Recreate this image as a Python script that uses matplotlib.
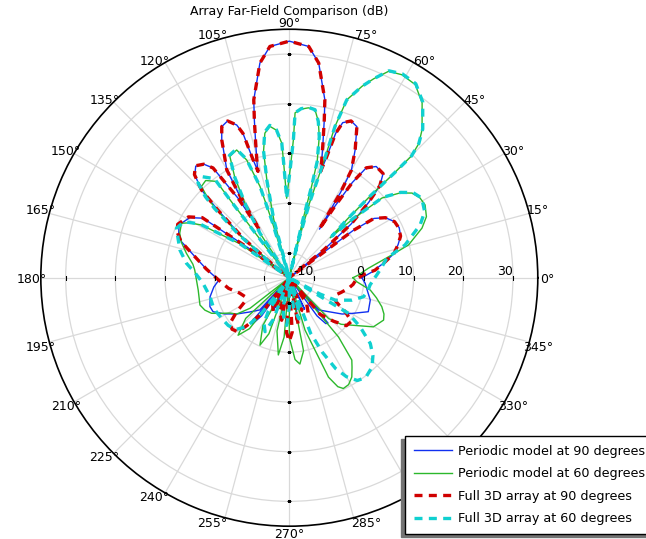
import numpy as np
import matplotlib
matplotlib.use('Agg')
import matplotlib.pyplot as plt

# far-field levels in dB (angle in degrees)
blue_theta = [0, 4, 9.5, 13, 17, 20.5, 24.5, 28, 32, 35, 36.5, 37.5, 39, 41, 43.5, 45.5, 48, 52, 55, 56.5,
              57.5, 58.2, 59, 60, 62.8, 65.9, 68.5, 71, 72.2, 72.9, 73.6, 74.3, 76, 77.5, 78.7, 82.2, 85.2, 90,
              94.8, 97.8, 101.3, 102.5, 104, 105.7, 106.4, 107.1, 107.8, 109, 111.5, 114.1, 116.1, 117.2, 120.1,
              121, 121.8, 122.8, 124.8, 127, 130, 132.6, 135, 136.5, 139.4, 141.6, 142.5, 144, 145.4, 148.9,
              154.4, 158, 161.5, 168.2, 174, 180.5, 182.5, 187, 193.5, 200, 204, 209, 214.5, 221, 227.5, 228.5,
              229.5, 231.5, 234, 236, 244, 250, 258, 264, 270, 276, 282, 290, 296, 304, 306, 308.5, 310.5,
              311.5, 312.5, 319, 325.5, 330.3, 336.7, 344.6, 350, 355.8, 360]
blue_db = [-0.4, 1.7, 4.6, 6.6, 7.9, 8.9, 9.3, 9.0, 7.8, 5.8, 1.0, -15, -6, 1.5, 7, 11, 13.2, 13.4, 12, 8,
           2, -3.5, 5, 10, 14, 18.3, 18.9, 18, 15.5, 10, 7.3, 9, 13, 17.5, 21.5, 28.6, 31.7, 32.6,
           31.7, 28.6, 21.5, 17.5, 13, 9, 7.3, 10, 15.5, 17.5, 18.9, 18.3, 15.9, 14, 10.1,
           5, -3.7, 4, 11.9, 13.6, 14.3, 13.1, 10, 5, -2.8, -10.9, -15, -5, 6.1, 8.4,
           9.6, 9.0, 7.9, 4.1, 1.8, -0.4, -0.7, 0.3, 1.4, 2.0, 1.8, 0, -2.1, -4.5, -6.2, -15,
           -3, -3.2, -5.5, -15, -8, -15, -8, -15, -9, -15, -8, -15, -8, -15, -5.5, -3.2, -3,
           -15, -6.2, -4.6, -2.1, -0.5, 2.3, 1.9, 1.0, 0.3, -0.4]

green_theta = [0, 2.2, 6.8, 12.5, 15.4, 20.5, 24, 28.2, 31.5, 34.6, 37.5, 40.7, 42.8, 44.3, 45.3, 45.3, 44.9,
               44.9, 46, 48.1, 52.8, 56.9, 61, 64.3, 67, 69.2, 72.1, 73.2, 73.5, 74.8, 76.5, 77.5, 76.8, 76.3,
               76.5, 78, 79.5, 81.3, 83.6, 86, 88, 88.3, 89.5, 91.9, 92.8, 93.2, 95, 97.3, 99.6, 101.5, 103,
               105, 106.5, 107, 107.8, 109.9, 112.4, 116.1, 118.5, 121, 123.4, 125.5, 127.3, 127.3, 127.1,
               130.7, 133.9, 136, 137, 139.5, 141.6, 143, 145.5, 149, 151.3, 153.2, 157.9, 162, 166.6, 172,
               175.3, 181.4, 187.7, 193, 197, 201, 204.6, 207.2, 211, 214.6, 217.9, 220, 223, 228.3, 232, 237,
               241, 246.5, 250, 254, 257, 261.9, 265, 268, 270, 274, 277, 281, 284.5, 286.7, 289.9, 291.5,
               294, 296, 299, 302.2, 305, 307.2, 309.7, 311, 313.9, 318, 322.8, 329.7, 335.8, 339, 342.6,
               347, 351.3, 356.6, 360]
green_db = [-2.2, -1.1, 1.0, 6.1, 9.9, 13.5, 15.2, 16.0, 15.8, 15.0, 13.0, 9.6, 2.1, -3.5, 1.5, 8, 15,
            19.7, 22.5, 25, 29.2, 31.4, 31.7, 31.1, 28.5, 26.2, 22.6, 16.8, 9, 1, -7.9, -15, -3, 4,
            9, 14, 17, 19.2, 19.4, 19, 18.2, 12.8, 7, 1.0, 8, 12.1, 14.8, 15.7, 14.5, 11, 5,
            -3, -15, -3, 4.3, 10.2, 12.8, 12.2, 8, 2, -4.3, -15, -5.4, 4, 9.3,
            10.8, 10.5, 7.5, 5, -2, -10.9, -15, -3, 5.6, 8.0, 9.3, 8.8, 7.8, 6.3, 4.6,
            4.1, 3.7, 3.5, 3.6, 3.8, 3.2, 2.2, 0.7, -1.2, -2.1, -5, -15, -3, 0.5, -2, -15,
            -4, -0.2, -3, -15, -4, 0.7, -3, -15, -3, 1.5, 2.5, 0, -15, -4, 1.2, 6.5,
            9.0, 9.8, 9.6, 8.6, 7, 5.8, 0.5, -15, -3.6, -1, 0.8, 4.6, 5.8, 5.4, 4.5,
            3, 1.5, -1.4, -2.2]

red_theta = [0, 2.5, 5, 9.5, 13, 17, 20.5, 24.5, 28, 32, 35, 36.5, 37.5, 39, 41, 43.5, 45.5, 48, 52, 55,
             56.5, 57.5, 58.2, 59, 60, 62.8, 65.9, 68.5, 71, 72.2, 72.9, 73.6, 74.3, 76, 77.5, 78.7, 82.2,
             85.2, 90, 94.8, 97.8, 101.3, 102.5, 104, 105.7, 106.4, 107.1, 107.8, 109, 111.5, 114.1, 116.1,
             117.2, 120.1, 121, 121.8, 122.8, 124.8, 127, 130, 132.6, 135, 136.5, 139.4, 141.6, 142.5, 144,
             145.4, 148.9, 154.4, 158, 161.5, 168.2, 174, 180.5, 184, 190, 197, 203, 208.4, 212.9, 217.6,
             222, 226.6, 229.2, 231.8, 233.5, 239, 245, 249, 254, 259.8, 264, 267, 270, 273, 276, 280.8,
             285, 291, 298, 304.2, 306, 310, 315.5, 320, 325, 328.6, 333, 339.3, 344, 349.8, 354, 358, 360]
red_db = [-1.0, 0.0, 2.3, 4.6, 6.6, 7.9, 8.9, 9.2, 9.0, 7.8, 5.8, 1.0, -15, -6, 1.5, 7, 11, 13.2, 13.4, 12,
          8, 2, -3.5, 5, 10, 14, 18.3, 18.9, 18, 15.5, 10, 7.3, 9, 13, 17.5, 21.5, 28.6,
          31.7, 32.6, 31.7, 28.6, 21.5, 17.5, 13, 9, 7.3, 10, 15.5, 17.5, 18.9, 18.3, 15.9,
          14, 10.1, 5, -3.7, 4, 11.9, 13.6, 14.4, 13.2, 10, 5, -2.8, -10.9, -15, -5,
          6.3, 8.7, 9.9, 9.3, 8.0, 4.1, 1.8, -0.4, -1.3, -2.6, -4.5, -5.3, -4.8, -2.4, 0.1,
          0.5, 0.0, -2.9, -5.4, -15, -8.5, -7.4, -15, -8.1, -6.3, -15, -4, -2.2, -4, -15, -5.3,
          -15, -8, -6.9, -8.8, -15, -5.4, -2.5, 0, 0.3, -1.8, -4.5, -5.1, -4.2, -2.9, -2.1, -1.6, -1.0]

cyan_theta = [0, 1.8, 6, 11.3, 15.8, 22, 26, 31, 34.6, 37.5, 40.7, 42.8, 44.3, 45.3, 45.3, 44.9, 44.9, 46,
              48.1, 52.8, 56.9, 61, 64.3, 67, 69.2, 72.1, 73.2, 73.5, 74.8, 76.5, 77.5, 76.8, 76.3, 76.5, 78,
              79.5, 81.3, 83.6, 86, 88, 88.3, 89.5, 91.9, 92.8, 93.2, 95, 97.3, 99.6, 101.5, 103, 105, 106.5,
              107, 107.8, 109.9, 112.4, 116.1, 118.5, 121, 123.4, 125.5, 127.3, 127.3, 127.1, 130.7, 133.9,
              136, 137.2, 139.5, 141.6, 143, 145.5, 149, 152, 156.3, 161.2, 165.8, 172, 177, 183.7, 193.5,
              200.9, 205.1, 212.7, 218, 224, 229, 232, 234, 238, 241, 245.8, 249, 252, 258, 262, 266.8, 270,
              273, 278, 283, 286, 288, 291, 294, 297, 300, 303.5, 307.4, 312.8, 317, 320.9, 325.3, 328.9,
              330.5, 332, 334, 340.3, 345.6, 350, 354.8, 360]
cyan_db = [2.2, 2.6, 3.6, 5.0, 9.2, 13.4, 15.3, 16.1, 15.2, 13.2, 9.8, 2.5, -3, 1.5, 8, 15, 19.7, 22.5,
           25.2, 29.4, 31.6, 31.9, 31.2, 28.5, 26.2, 22.6, 16.8, 9, 1, -7.9, -15, -3, 4, 9, 14,
           17, 19.2, 19.5, 19.1, 18.2, 12.8, 7, 1.0, 8, 12.1, 14.9, 15.9, 14.7, 11, 5, -3, -15,
           -3, 4.3, 10.4, 13.0, 12.4, 8, 2, -4.3, -15, -5.4, 4.5, 10, 11.8, 11.5,
           8.5, 5.5, -1.5, -10, -15, -3, 6, 9, 9.8, 8.6, 7.7, 5.9, 4.0, 2.4, 1.4,
           1.4, 1.2, 0.8, 0.6, 0, -1.9, -6, -15, -7, -4.5, -3.1, -6, -15, -9, -7, -5.4, -9,
           -15, -9, -6.5, -8, -15, -3, 1.5, 5.5, 8, 9.8, 10.3, 9.5, 8, 6, 2.3, -1.1,
           -15, -8, -4.7, -1.6, 0.4, 1.0, 1.3, 2.2]

r_min, r_max = -15, 35
r_ticks = [-10, 0, 10, 20, 30]
theta_ticks = list(range(0, 360, 15))

plt.rcParams['font.family'] = 'DejaVu Sans'
fig = plt.figure(figsize=(6.46, 5.39), dpi=100)
ax = fig.add_axes([0.0632, 0.0237, 0.7693, 0.9221], projection='polar')

series = [
    (blue_theta, blue_db, 'Periodic model at 90 degrees', dict(color='#1030f0', lw=1.0)),
    (green_theta, green_db, 'Periodic model at 60 degrees', dict(color='#2cb82c', lw=1.0)),
    (red_theta, red_db, 'Full 3D array at 90 degrees', dict(color='#d00000', lw=2.4, ls=(0, (2.4, 1.9)))),
    (cyan_theta, cyan_db, 'Full 3D array at 60 degrees', dict(color='#10d0d0', lw=2.4, ls=(0, (2.4, 1.9)))),
]
for th, db, lab, kw in series:
    ax.plot(np.deg2rad(th), np.clip(db, r_min, None), label=lab, **kw)

ax.set_ylim(r_min, r_max)
ax.set_yticks(r_ticks)
ax.set_yticklabels([])
ax.set_xticks(np.deg2rad(theta_ticks))
ax.set_xticklabels([])
ax.grid(True, color='#d9d9d9', lw=0.9)
ax.spines['polar'].set_linewidth(1.2)

# angle labels: outside the rim, nudged away from the vertical axis like the original
for a in theta_ticks:
    c, s = np.cos(np.deg2rad(a)), np.sin(np.deg2rad(a))
    phi = abs(90 - (a % 180))
    t = 0 if a % 90 == 0 else 14 - 0.21 * phi
    sg = np.sign(c * s)
    rad = 9.5 - 2.5 * s ** 2
    dx = rad * c + t * sg * s
    dy = rad * s - t * sg * c
    ax.annotate(f'{a}°', xy=(np.deg2rad(a), r_max), xytext=(dx * 0.72, dy * 0.72),
                textcoords='offset points', ha='center', va='center_baseline', fontsize=9,
                annotation_clip=False)

for r in r_ticks:
    ax.text(0, r, str(r), ha='right', va='bottom', fontsize=9)
for ang in (0, 180):
    ax.plot(np.deg2rad([ang] * len(r_ticks)), r_ticks, ls='none', marker='|', ms=3, mew=0.8, color='k')
for ang in (90, 270):
    ax.plot(np.deg2rad([ang] * len(r_ticks)), r_ticks, ls='none', marker='_', ms=3, mew=0.8, color='k')

fig.text(289.3 / 646, 1 - 15 / 539, 'Array Far-Field Comparison (dB)', ha='center', va='baseline', fontsize=9)

leg = ax.legend(loc='upper left', bbox_to_anchor=(405 / 646, 1 - 436 / 539), bbox_transform=fig.transFigure,
                fontsize=9.2, frameon=True, fancybox=False, edgecolor='k', framealpha=1, borderaxespad=0,
                borderpad=0.7, labelspacing=0.74, handlelength=3.0, handletextpad=0.42,
                shadow={'ox': -3, 'oy': -2, 'color': '0.45', 'alpha': 1})
leg.get_frame().set_linewidth(1.0)
leg.set_zorder(10)

fig.savefig('out.png', dpi=100)
